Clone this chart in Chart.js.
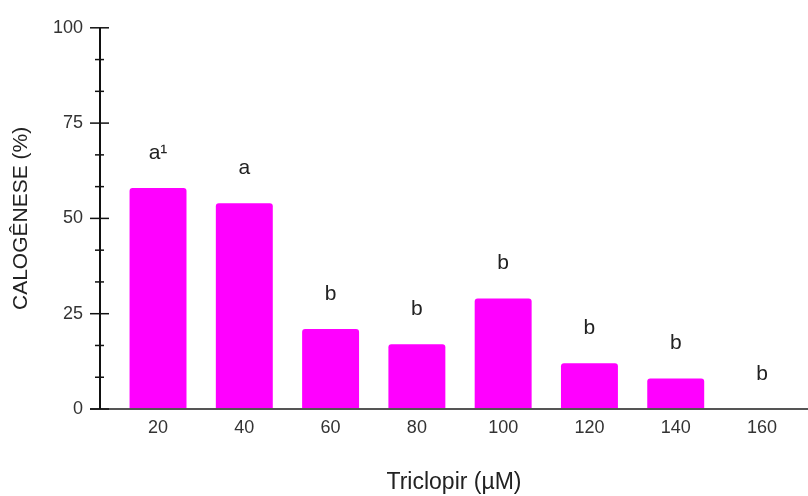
<!DOCTYPE html>
<html>
<head>
<meta charset="utf-8">
<script src="https://cdn.jsdelivr.net/npm/chart.js@4/dist/chart.umd.min.js"></script>
<style>
  html, body { margin: 0; padding: 0; background: #fff; }
  #wrap { width: 808px; height: 496px; }
</style>
</head>
<body>
<div id="wrap"><canvas id="myChart"></canvas></div>
<script>
// Triclopir dose (uM) vs callus formation (%)
var doses = [20, 40, 60, 80, 100, 120, 140, 160];
var calogenese = [58, 54, 21, 17, 29, 12, 8, 0];
var letters = ['a\u00B9', 'a', 'b', 'b', 'b', 'b', 'b', 'b'];
var yTicks = [0, 25, 50, 75, 100];

var FONT = '"Liberation Sans", Arial, sans-serif';

// axis lines + ticks crossing the y axis, and the letters above bars
var axesPlugin = {
    id: 'axesPlugin',
    afterDatasetsDraw: function (chart) {
        var ctx = chart.ctx;
        var x = chart.scales.x, y = chart.scales.y;
        var ax = chart.chartArea.left;
        ctx.save();
        // x axis line
        ctx.strokeStyle = '#555';
        ctx.lineWidth = 2;
        ctx.beginPath();
        ctx.moveTo(ax - 10, y.getPixelForValue(0));
        ctx.lineTo(chart.chartArea.right, y.getPixelForValue(0));
        ctx.stroke();
        // y axis line
        ctx.strokeStyle = '#111';
        ctx.beginPath();
        ctx.moveTo(ax, y.getPixelForValue(100));
        ctx.lineTo(ax, y.getPixelForValue(0));
        ctx.stroke();
        // major and minor ticks
        ctx.lineWidth = 1.5;
        for (var i = 0; i < yTicks.length; i++) {
            var py = y.getPixelForValue(yTicks[i]);
            ctx.beginPath();
            ctx.moveTo(ax - 10, py);
            ctx.lineTo(ax + 9, py);
            ctx.stroke();
            if (i < yTicks.length - 1) {
                for (var k = 1; k < 3; k++) {
                    var my = y.getPixelForValue(yTicks[i] + k * (yTicks[i + 1] - yTicks[i]) / 3);
                    ctx.beginPath();
                    ctx.moveTo(ax - 5, my);
                    ctx.lineTo(ax + 4, my);
                    ctx.stroke();
                }
            }
        }
        // significance letters
        ctx.fillStyle = '#222';
        ctx.font = '21px ' + FONT;
        ctx.textAlign = 'center';
        ctx.textBaseline = 'middle';
        for (var j = 0; j < doses.length; j++) {
            ctx.fillText(letters[j], x.getPixelForValue(doses[j]), y.getPixelForValue(calogenese[j]) - 35);
        }
        ctx.restore();
    }
};

var ctx = document.getElementById('myChart');
var chart = new Chart(ctx, {
    type: 'bar',
    data: {
        datasets: [{
            data: doses.map(function (d, i) { return { x: d, y: calogenese[i] }; }),
            backgroundColor: '#FF00FF',
            borderWidth: 0,
            borderRadius: 3,
            borderSkipped: 'bottom',
            barPercentage: 0.66,
            categoryPercentage: 1
        }]
    },
    options: {
        responsive: true,
        maintainAspectRatio: false,
        animation: false,
        layout: { padding: { top: 27, right: 0, bottom: 0, left: 0 } },
        plugins: { legend: { display: false }, tooltip: { enabled: false } },
        scales: {
            x: {
                type: 'linear',
                offset: false,
                min: 6.55,
                max: 170.66,
                afterBuildTicks: function (scale) {
                    scale.ticks = doses.map(function (d) { return { value: d }; });
                },
                afterFit: function (scale) { scale.height = 87; },
                grid: { display: false, drawTicks: false },
                border: { display: false },
                ticks: {
                    padding: 8,
                    color: '#333',
                    font: { size: 18, family: FONT },
                    callback: function (v) { return v; }
                },
                title: {
                    display: true,
                    text: 'Triclopir (\u00B5M)',
                    color: '#222',
                    padding: { top: -5, bottom: 0 },
                    font: { size: 23, family: FONT }
                }
            },
            y: {
                min: 0,
                max: 100,
                afterBuildTicks: function (scale) {
                    scale.ticks = yTicks.map(function (v) { return { value: v }; });
                },
                afterFit: function (scale) { scale.width = 100; },
                grid: { display: false, drawTicks: false },
                border: { display: false },
                ticks: {
                    padding: 17,
                    color: '#333',
                    font: { size: 18, family: FONT }
                },
                title: {
                    display: true,
                    text: 'CALOG\u00CANESE (%)',
                    color: '#222',
                    padding: { top: 9, bottom: 0 },
                    font: { size: 21, family: FONT }
                }
            }
        }
    },
    plugins: [axesPlugin]
});
</script>
</body>
</html>
